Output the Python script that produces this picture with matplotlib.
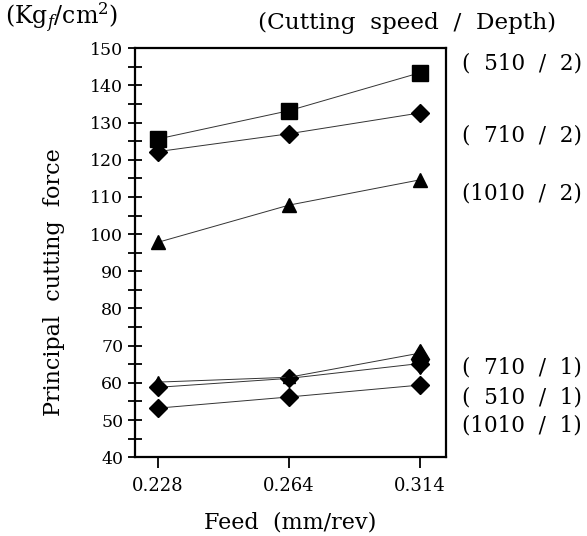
import matplotlib
matplotlib.use("Agg")
import matplotlib.pyplot as plt
import matplotlib.transforms as mtransforms

plt.rcParams['font.family'] = ['DejaVu Serif']
plt.rcParams['mathtext.fontset'] = 'dejavuserif'

feeds = ['0.228', '0.264', '0.314']

s510_2 = [125.6, 133.2, 143.4]
s710_2 = [122.2, 127.0, 132.6]
s1010_2 = [97.8, 107.8, 114.6]
s710_1 = [60.2, 61.5, 68.0]
s510_1 = [58.8, 61.2, 65.2]
s1010_1 = [53.2, 56.2, 59.4]

labels = ['(  510  /  2)', '(  710  /  2)', '(1010  /  2)',
          '(  710  /  1)', '(  510  /  1)', '(1010  /  1)']
label_y = [145.9, 126.4, 110.9, 64.1, 56.0, 48.6]

fig = plt.figure(figsize=(5.87, 5.36), dpi=100)
ax = fig.add_axes([0.230, 0.147, 0.530, 0.763])

x = range(len(feeds))
line_kw = dict(color='#333333', lw=0.7, mfc='black', mec='black')
ax.plot(x, s1010_1, marker='D', ms=9, **line_kw)
ax.plot(x, s510_1, marker='D', ms=9, **line_kw)
ax.plot(x, s710_1, marker='^', ms=9, **line_kw)
ax.plot([2], [s710_1[2] - 1.5], ls='none', marker='d', ms=15, color='black')
ax.plot(x, s1010_2, marker='^', ms=10, **line_kw)
ax.plot(x, s710_2, marker='D', ms=9, **line_kw)
ax.plot(x, s510_2, marker='s', ms=12, **line_kw)

ax.set_xlim(-0.175, 2.2)
ax.set_ylim(40, 150)
ax.set_xticks(list(x))
ax.set_xticklabels(feeds)
ax.set_yticks(range(40, 151, 10))
ax.set_yticks(range(45, 150, 10), minor=True)
ax.tick_params(axis='y', which='both', direction='inout', length=10, width=1.3,
               labelsize=12.5)
ax.tick_params(axis='x', direction='out', length=8, width=1.3, labelsize=13, pad=6)
for sp in ax.spines.values():
    sp.set_linewidth(1.6)

ax.set_xlabel('Feed  (mm/rev)', fontsize=16, labelpad=12)
ax.set_ylabel('Principal  cutting  force', fontsize=16)
ax.yaxis.set_label_coords(-0.225, 0.428)

trans = mtransforms.blended_transform_factory(ax.transAxes, ax.transData)
for lab, yy in zip(labels, label_y):
    ax.text(1.05, yy, lab, transform=trans, fontsize=15.5, va='center', ha='left',
            clip_on=False)

fig.text(0.008, 0.966, '(Kg$_f$/cm$^2$)', fontsize=17, va='center', ha='left')
fig.text(0.44, 0.958, '(Cutting  speed  /  Depth)', fontsize=16.7, va='center', ha='left')

fig.savefig('out.png', dpi=100)
